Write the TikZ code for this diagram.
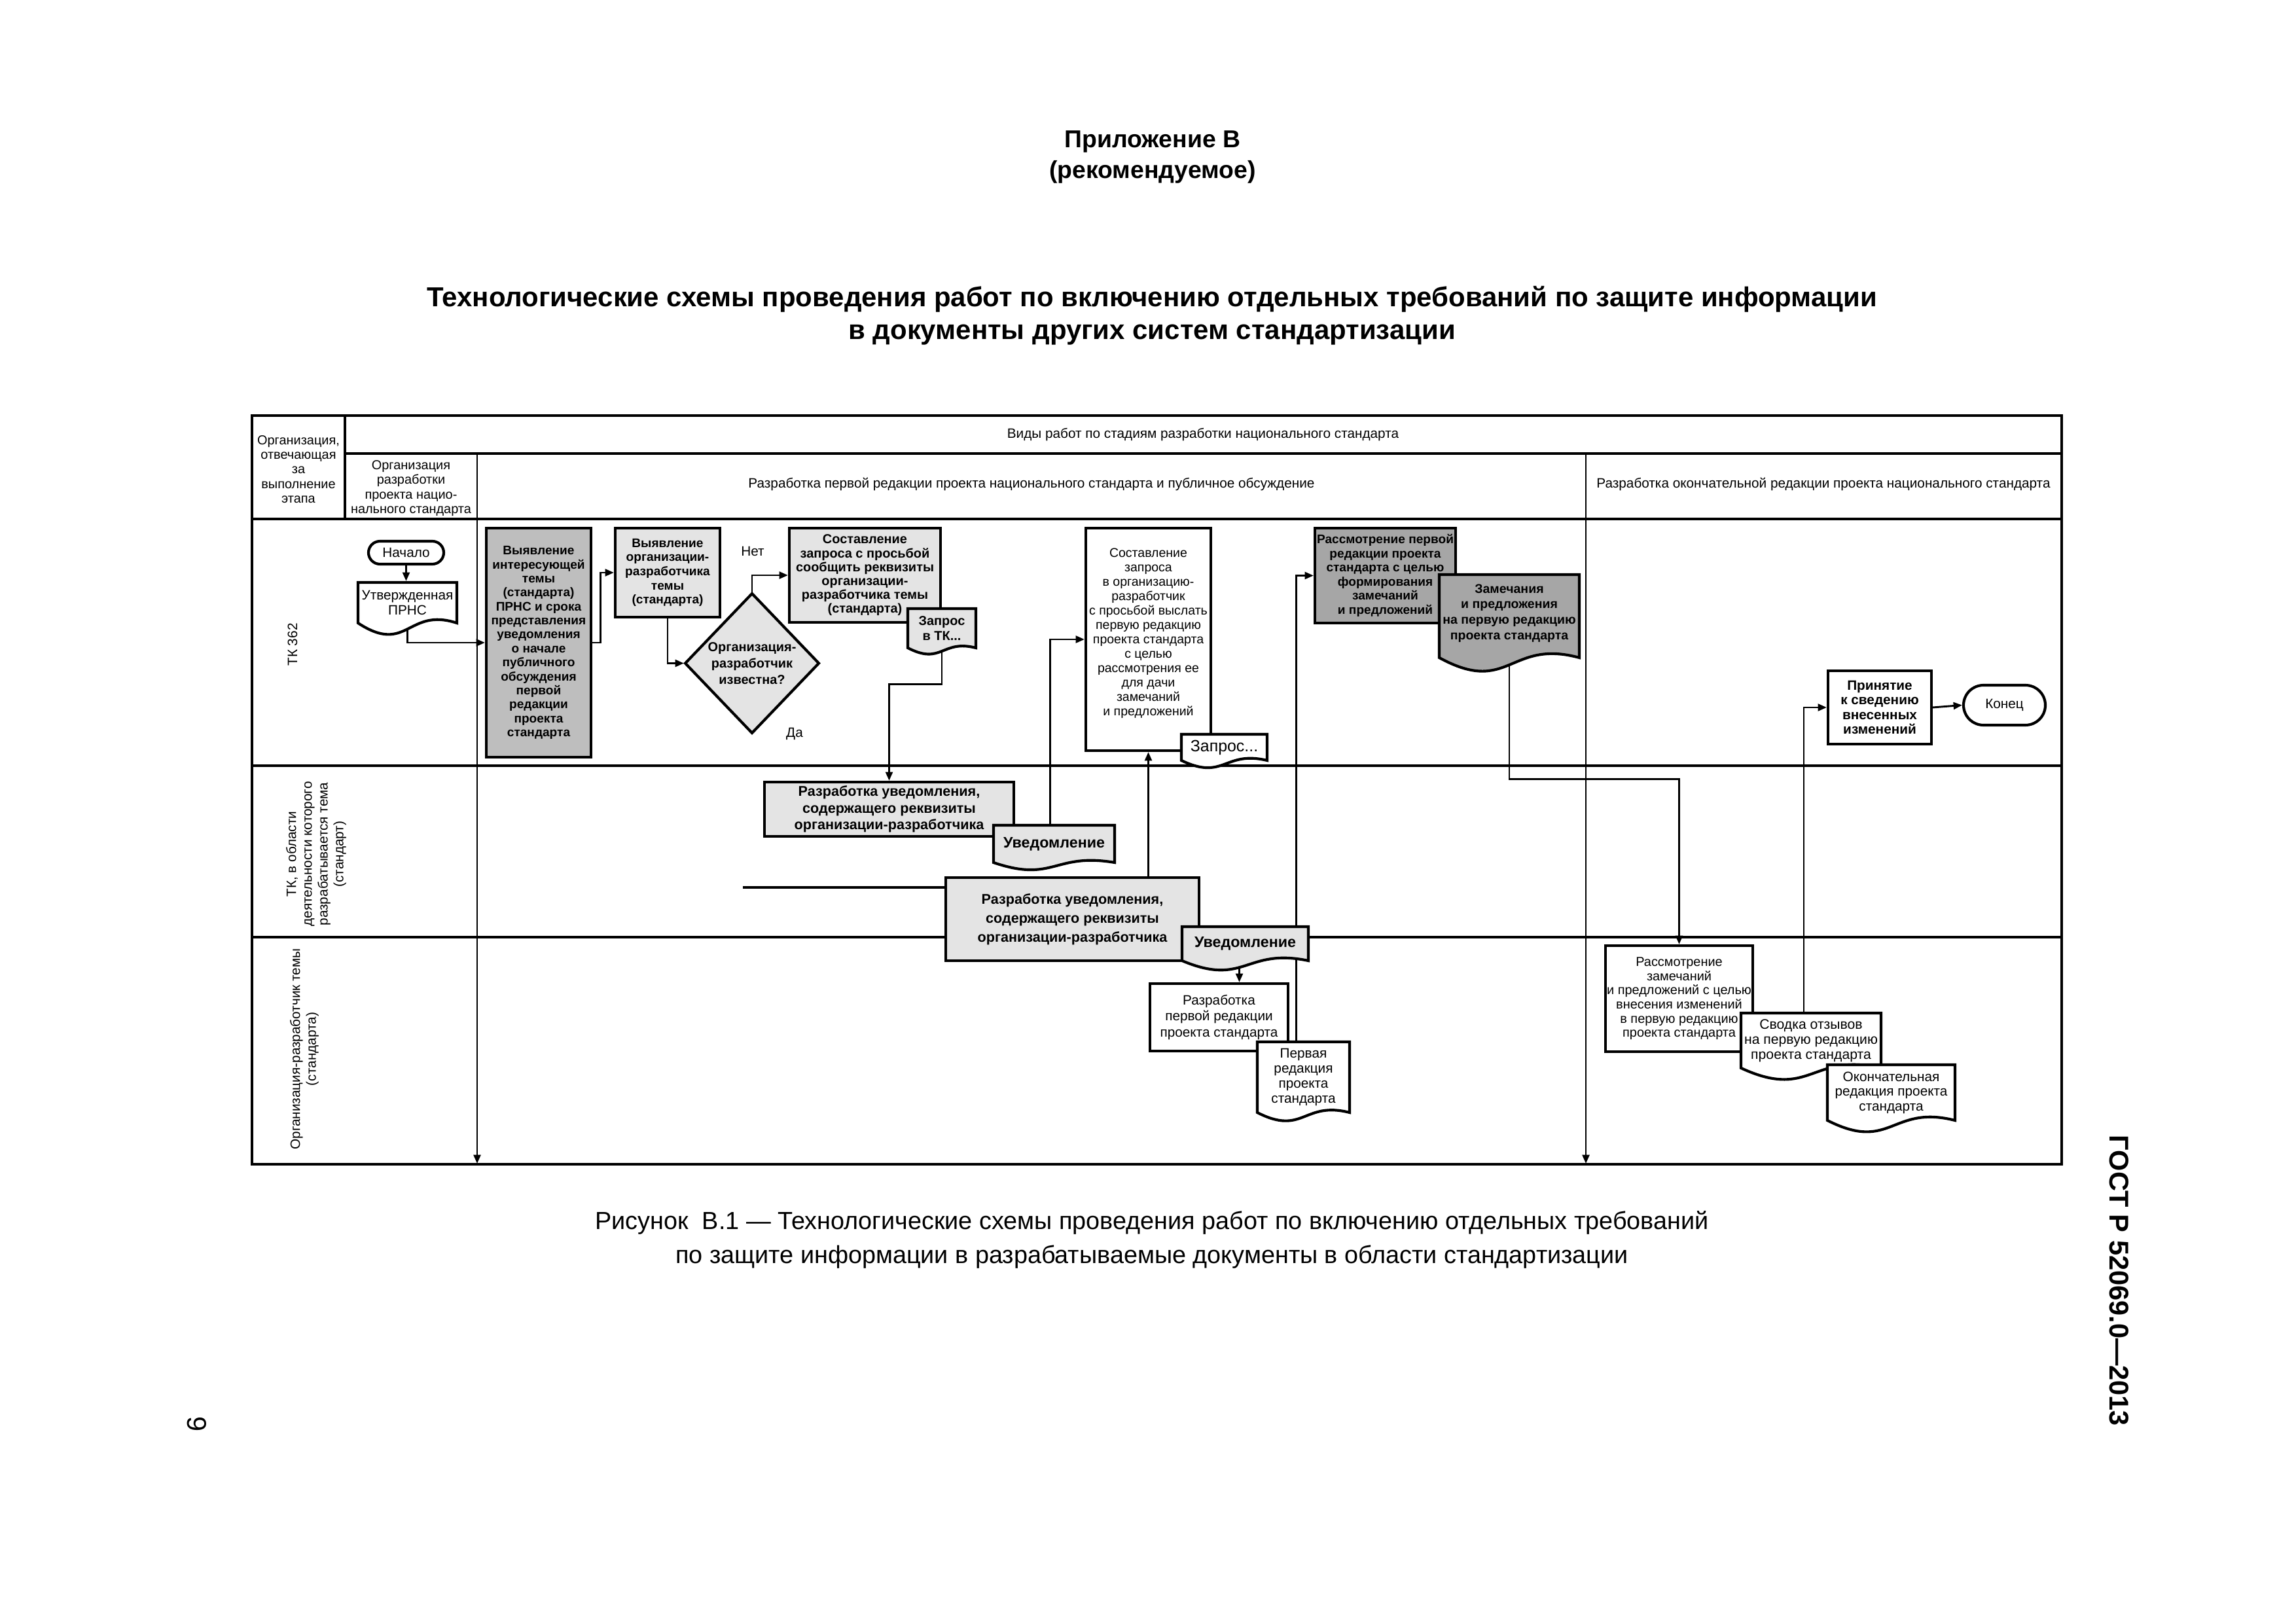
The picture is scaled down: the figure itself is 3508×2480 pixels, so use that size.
\documentclass[tikz,border=0pt]{standalone}
\usepackage{fontspec}
\setmainfont{Liberation Sans}
\usetikzlibrary{arrows.meta,calc,shapes.misc}
\newlength\pxl
\setlength\pxl{0.0846667mm}
\newcommand\fsz[2]{\fontsize{#1}{#2}\selectfont}
\definecolor{gmid}{HTML}{BEBEBE}
\definecolor{glight}{HTML}{E4E4E4}
\definecolor{gdark}{HTML}{A6A6A6}
\pgfdeclarelayer{bg}
\pgfsetlayers{bg,main}
% document shape: name, x0, y0, x1, y1(straight bottom), wave, fill, font, text
\newcommand\docbox[9]{%
 \filldraw[docline, fill=#7] (#2,#3) -- (#4,#3) -- (#4,#5) .. controls ({(#2+#4)/2},{#5-0.45*#6}) and ({(#2+#4)/2},{#5+0.9*#6}) .. (#2,#5) -- cycle
   node[lbl, font={#8}, minimum width={(#4-#2)*\pxl}, minimum height={(#5-#3)*\pxl}] (#1) at ({(#2+#4)/2},{(#3+#5)/2}) {#9};}
\begin{document}
\begin{tikzpicture}[x=0.0846667mm, y=-0.0846667mm,
  tbl/.style={line width=0.75pt},
  bx/.style={draw, line width=1pt, inner sep=0pt, align=center},
  lbl/.style={inner sep=0pt, align=center},
  conn/.style={line width=0.7pt},
  arr/.style={conn, -{Triangle[length=3.2pt,width=2.6pt]}},
  docline/.style={line width=1pt},
]
\useasboundingbox (0,0) rectangle (3508,2480);
\begin{pgfonlayer}{bg}
\fill[white] (0,0) rectangle (3508,2480);
\end{pgfonlayer}

% ---------- titles
\node[lbl, font=\fsz{9}{11}\bfseries] (app) at (1761,217) {Приложение В};
\node[lbl, font=\fsz{9}{11}\bfseries] (rec) at (1761,263) {(рекомендуемое)};
\node[lbl, font=\fsz{10.1}{13}\bfseries] (tt1) at (1760,457) {Технологические схемы проведения работ по включению отдельных требований по защите информации};
\node[lbl, font=\fsz{10.1}{13}\bfseries] (tt2) at (1760,512) {в документы других систем стандартизации};

% ---------- table
\draw[line width=0.9pt] (385,635) rectangle (3150,1779);
\draw[tbl] (527,635) -- (527,793);
\draw[tbl] (527,693) -- (3150,693);
\draw[tbl] (385,793) -- (3150,793);
\draw[line width=0.85pt] (385,1170) -- (3150,1170);
\draw[line width=0.85pt] (385,1432) -- (3150,1432);
\coordinate (cA1) at (729,693);
\coordinate (cA2) at (729,1778);
\coordinate (cB1) at (2423,693);
\coordinate (cB2) at (2423,1778);
\draw[arr] (cA1) -- (cA2);
\draw[arr] (cB1) -- (cB2);

\node[lbl, font=\fsz{4.8}{5.4}] (h1) at (456,717) {Организация,\\отвечающая\\за\\выполнение\\этапа};
\node[lbl, font=\fsz{4.8}{5.4}] (h2) at (628,746) {Организация\\разработки\\проекта нацио-\\нального стандарта};
\node[lbl, font=\fsz{5}{6}] (h3) at (1838,664) {Виды работ по стадиям разработки национального стандарта};
\node[lbl, font=\fsz{5}{6}] (h4) at (1576,740) {Разработка первой редакции проекта национального стандарта и публичное обсуждение};
\node[lbl, font=\fsz{5}{6}] (h5) at (2786,740) {Разработка окончательной редакции проекта национального стандарта};

\node[lbl, rotate=90, font=\fsz{5}{6}] (l1) at (447,985) {ТК 362};
\node[lbl, rotate=90, font=\fsz{5}{5.8}] (l2) at (483,1305) {ТК, в области\\деятельности которого\\разрабатывается тема\\(стандарт)};
\node[lbl, rotate=90, font=\fsz{5}{5.8}] (l3) at (465,1603) {Организация-разработчик темы\\(стандарта)};

% ---------- lane 1
\node[bx, rounded rectangle, minimum width=115*\pxl, minimum height=35*\pxl, font=\fsz{5}{6}] (start) at (620.5,844.5) {Начало};
\docbox{prns}{547}{890}{698}{952}{55}{white}{\fsz{5}{5.6}}{Утвержденная\\ПРНС}
\node[bx, fill=gmid, minimum width=160*\pxl, minimum height=350*\pxl, font=\fsz{4.6}{5.15}\bfseries] (big) at (823,982) {Выявление\\интересующей\\темы\\(стандарта)\\ПРНС и срока\\представления\\уведомления\\о начале\\публичного\\обсуждения\\первой\\редакции\\проекта\\стандарта};
\node[bx, fill=glight, minimum width=160*\pxl, minimum height=136*\pxl, font=\fsz{4.6}{5.2}\bfseries] (box2) at (1020,875) {Выявление\\организации-\\разработчика\\темы\\(стандарта)};
\filldraw[line width=1pt, fill=glight] (1149,907) -- (1251,1013.5) -- (1149,1120) -- (1047,1013.5) -- cycle
  node[lbl, minimum width=204*\pxl, minimum height=213*\pxl, font=\fsz{4.8}{6}\bfseries] (dia) at (1149,1013.5) {Организация-\\разработчик\\известна?};
\node[lbl, font=\fsz{5}{6}] (no) at (1150,842) {Нет};
\node[lbl, font=\fsz{5}{6}] (yes) at (1214,1121) {Да};
\node[bx, fill=glight, minimum width=231*\pxl, minimum height=144*\pxl, font=\fsz{4.8}{5.1}\bfseries] (box3) at (1321.5,879) {Составление\\запроса с просьбой\\сообщить реквизиты\\организации-\\разработчика темы\\(стандарта)};
\docbox{ztk}{1387}{930}{1491}{990}{30}{glight}{\fsz{4.8}{5.6}\bfseries}{Запрос\\в ТК...}
\node[bx, fill=white, minimum width=191*\pxl, minimum height=340*\pxl, font=\fsz{4.7}{5.3}] (boxC) at (1754.5,977) {Составление\\запроса\\в организацию-\\разработчик\\с просьбой выслать\\первую редакцию\\проекта стандарта\\с целью\\рассмотрения ее\\для дачи\\замечаний\\и предложений\\};
\docbox{zap}{1805}{1122}{1936}{1162}{35}{white}{\fsz{6}{7}}{Запрос...}
\node[bx, fill=gdark, minimum width=215*\pxl, minimum height=145*\pxl, font=\fsz{4.6}{5.2}\bfseries] (boxD) at (2116.5,879.5) {Рассмотрение первой\\редакции проекта\\стандарта с целью\\формирования\\замечаний\\и предложений};
\docbox{zam}{2199}{878}{2413}{1005}{65}{gdark}{\fsz{4.7}{5.7}\bfseries}{Замечания\\и предложения\\на первую редакцию\\проекта стандарта\\[-2.5pt]}
\node[bx, fill=white, minimum width=158*\pxl, minimum height=112*\pxl, font=\fsz{5}{5.4}\bfseries] (boxH) at (2872,1081) {Принятие\\к сведению\\внесенных\\изменений};
\node[bx, rounded rectangle, fill=white, minimum width=125*\pxl, minimum height=61*\pxl, font=\fsz{5}{6}] (fin) at (3062.5,1077.5) {Конец};

% ---------- lane 2
\node[bx, fill=glight, minimum width=381*\pxl, minimum height=83*\pxl, font=\fsz{5.2}{6.2}\bfseries] (boxA) at (1358.5,1236.5) {Разработка уведомления,\\содержащего реквизиты\\организации-разработчика};
\docbox{uv1}{1518}{1261}{1703}{1318}{35}{glight}{\fsz{5.6}{6.5}\bfseries}{Уведомление}
\node[bx, fill=glight, minimum width=387*\pxl, minimum height=127*\pxl, font=\fsz{5.2}{7}\bfseries] (boxB) at (1638.5,1404.5) {Разработка уведомления,\\содержащего реквизиты\\организации-разработчика};
\docbox{uv2}{1806}{1416}{1999}{1468}{45}{glight}{\fsz{5.6}{6.5}\bfseries}{Уведомление}

% ---------- lane 3
\node[bx, fill=white, minimum width=211*\pxl, minimum height=103*\pxl, font=\fsz{5}{5.8}] (boxR) at (1862.5,1554.5) {Разработка\\первой редакции\\проекта стандарта};
\docbox{perv}{1921}{1592}{2062}{1700}{40}{white}{\fsz{5}{5.6}}{Первая\\редакция\\проекта\\стандарта}
\node[bx, fill=white, minimum width=225*\pxl, minimum height=162*\pxl, font=\fsz{4.8}{5.2}] (boxE) at (2565.5,1526) {Рассмотрение\\замечаний\\и предложений с целью\\внесения изменений\\в первую редакцию\\проекта стандарта};
\docbox{svod}{2660}{1548}{2874}{1632}{55}{white}{\fsz{5.1}{5.5}}{Сводка отзывов\\на первую редакцию\\проекта стандарта}
\docbox{okon}{2792}{1627}{2987}{1712}{55}{white}{\fsz{5}{5.4}}{Окончательная\\редакция проекта\\стандарта}

% ---------- connectors
\begin{pgfonlayer}{bg}
\draw[arr] (start.south) -- (start.south |- prns.north);
\draw[arr] (prns.south) |- (big.west);
\draw[arr] (big.east) -- ++(12,0) |- (box2.west);
\draw[arr] (box2.south) |- (dia.west);
\draw[arr] (dia.north) |- (box3.west);
\draw[arr] (ztk.south) -- ++(0,53) -| (boxA.north);
\coordinate (uv1t) at ($(uv1.north)+(-6,0)$);
\draw[arr] (uv1t) |- (boxC.west);
\draw[arr] (boxC.south |- boxB.north) -- (boxC.south);
\coordinate (dang) at (1135,1356);
\draw[line width=0.9pt] (dang) -- (dang -| boxB.west);
\coordinate (pervt) at ($(perv.north)+(-11,0)$);
\draw[arr] (pervt) |- (boxD.west);
\coordinate (uv2b) at ($(uv2.south)+(-9,0)$);
\draw[arr] (uv2b) -- (uv2b |- boxR.north);
\draw[arr] (zam.south) -- ++(0,183) -| (boxE.north);
\coordinate (svt) at ($(svod.north)+(-11,0)$);
\draw[arr] (svt) |- (boxH.west);
\draw[arr] (boxH.east) -- (fin.west);
\end{pgfonlayer}

% ---------- caption and page marks
\node[lbl, font=\fsz{9.1}{11}] (cap1) at (1760,1868) {Рисунок~~В.1 — Технологические схемы проведения работ по включению отдельных требований};
\node[lbl, font=\fsz{9.1}{11}] (cap2) at (1760,1921) {по защите информации в разрабатываемые документы в области стандартизации};
\node[lbl, rotate=-90, font=\fsz{10}{12}\bfseries] (gost) at (3238,1957) {ГОСТ Р 52069.0—2013};
\node[lbl, rotate=-90, font=\fsz{10}{12}] (pg) at (301,2176) {9};
\end{tikzpicture}
\end{document}
